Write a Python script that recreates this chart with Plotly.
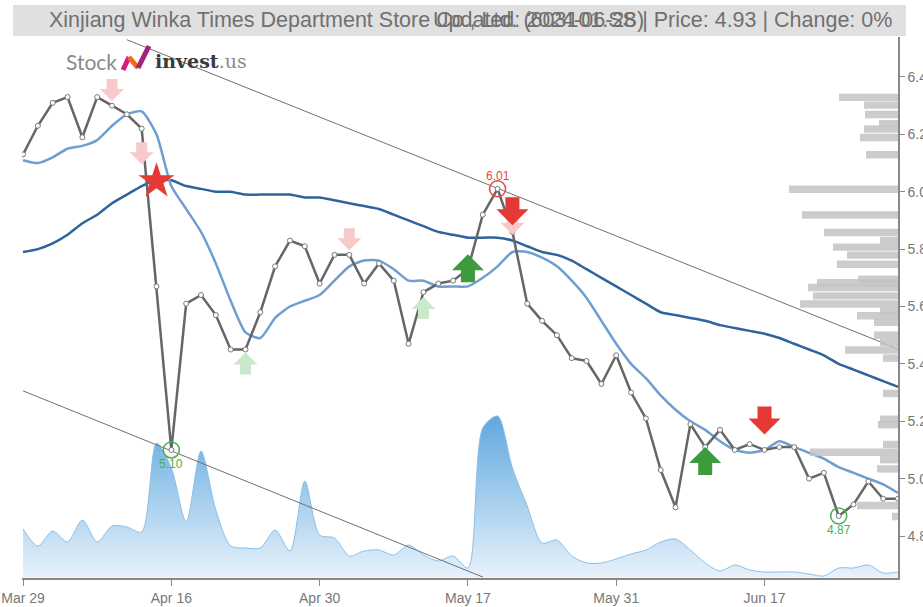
import plotly.graph_objects as go

# ---------------- data ----------------
dates = ["2024-03-29", "2024-04-01", "2024-04-02", "2024-04-03", "2024-04-08", "2024-04-09", "2024-04-10",
         "2024-04-11", "2024-04-12", "2024-04-15", "2024-04-16",
         "2024-04-17", "2024-04-18", "2024-04-19", "2024-04-22", "2024-04-23", "2024-04-24", "2024-04-25",
         "2024-04-26", "2024-04-29", "2024-04-30",
         "2024-05-06", "2024-05-07", "2024-05-08", "2024-05-09", "2024-05-10", "2024-05-13", "2024-05-14",
         "2024-05-15", "2024-05-16", "2024-05-17",
         "2024-05-20", "2024-05-21", "2024-05-22", "2024-05-23", "2024-05-24", "2024-05-27", "2024-05-28",
         "2024-05-29", "2024-05-30", "2024-05-31",
         "2024-06-03", "2024-06-04", "2024-06-05", "2024-06-06", "2024-06-07", "2024-06-11", "2024-06-12",
         "2024-06-13", "2024-06-14", "2024-06-17",
         "2024-06-18", "2024-06-19", "2024-06-20", "2024-06-21", "2024-06-24", "2024-06-25", "2024-06-26",
         "2024-06-27", "2024-06-28"]

close = [6.13, 6.23, 6.31, 6.33, 6.19, 6.33, 6.30, 6.27, 6.22, 5.67, 5.10,
         5.61, 5.64, 5.57, 5.45, 5.45, 5.58, 5.74, 5.83, 5.81, 5.68,
         5.78, 5.78, 5.68, 5.75, 5.69, 5.47, 5.65, 5.68, 5.69, 5.73,
         5.92, 6.01, 5.86, 5.61, 5.55, 5.50, 5.42, 5.41, 5.33, 5.43,
         5.30, 5.21, 5.03, 4.90, 5.19, 5.11, 5.17, 5.10, 5.12, 5.10,
         5.11, 5.11, 5.00, 5.02, 4.87, 4.91, 4.99, 4.93, 4.93]

ma_short = [6.11, 6.10, 6.12, 6.15, 6.16, 6.18, 6.23, 6.27, 6.28, 6.20, 6.02,
            5.94, 5.86, 5.75, 5.62, 5.51, 5.49, 5.56, 5.60, 5.62, 5.64,
            5.69, 5.74, 5.76, 5.76, 5.73, 5.69, 5.69, 5.67, 5.67, 5.67,
            5.70, 5.74, 5.79, 5.79, 5.77, 5.74, 5.69, 5.63, 5.55, 5.47,
            5.40, 5.35, 5.29, 5.24, 5.20, 5.17, 5.13, 5.10, 5.09, 5.10,
            5.13, 5.11, 5.09, 5.07, 5.04, 5.02, 5.00, 4.98, 4.95]

ma_long = [5.79, 5.80, 5.82, 5.85, 5.89, 5.92, 5.96, 5.99, 6.02, 6.04, 6.04,
           6.02, 6.01, 6.00, 6.00, 5.99, 5.99, 5.99, 5.99, 5.98, 5.98,
           5.97, 5.96, 5.95, 5.94, 5.92, 5.90, 5.88, 5.86, 5.85, 5.84,
           5.84, 5.84, 5.83, 5.81, 5.79, 5.78, 5.76, 5.73, 5.70, 5.67,
           5.64, 5.61, 5.58, 5.57, 5.56, 5.55, 5.535, 5.525, 5.515, 5.505,
           5.49, 5.47, 5.45, 5.43, 5.40, 5.38, 5.36, 5.34, 5.32]

volume = [49, 32, 47, 36, 58, 36, 52, 51, 46, 135, 110,
          56, 127, 68, 32, 30, 30, 48, 27, 97, 43,
          40, 22, 27, 28, 23, 33, 23, 17, 22, 10,
          150, 162, 110, 72, 35, 38, 22, 15, 15, 19,
          24, 28, 36, 39, 28, 15, 7, 13, 8, 6,
          6, 6, 4, 2, 10, 10, 13, 5, 6]

profile_price = [6.329, 6.302, 6.269, 6.237, 6.219, 6.189, 6.129, 6.009, 5.919, 5.858, 5.83, 5.807,
                 5.779, 5.747, 5.695, 5.683, 5.666, 5.637, 5.609, 5.585, 5.568, 5.545, 5.50, 5.475,
                 5.448, 5.42, 5.297, 5.207, 5.188, 5.119, 5.092, 5.066, 5.034, 4.906, 4.868]
profile_volume = [59, 34, 33, 19, 34, 38, 32, 109, 96, 74, 18, 65,
                  51, 61, 40, 81, 90, 85, 98, 18, 41, 24, 24, 18,
                  53, 15, 15, 18, 20, 15, 88, 18, 21, 41, 6]

trend_upper_dates = ["2024-04-11", "2024-06-28"]
trend_upper_val = [6.53, 5.452]
trend_lower_dates = ["2024-03-29", "2024-05-20"]
trend_lower_val = [5.306, 4.657]

sell_weak = [(6, 6.316), (8, 6.096), (22, 5.796), (33, 5.85)]
buy_weak = [(15, 5.44), (27, 5.633)]
buy_strong = [(30, 5.782), (46, 5.11)]
sell_strong = [(33, 5.883), (50, 5.154)]
star_point = (9, 6.037)
top_points = [32]
bottom_points = [10, 55]

tick_idx = [0, 10, 20, 30, 40, 50]
tick_text = ["Mar 29", "Apr 16", "Apr 30", "May 17", "May 31", "Jun 17"]

title_left = "Xinjiang Winka Times Department Store Co., Ltd. (603101.SS)"
title_right = "Updated: 2024-06-28 | Price: 4.93 | Change: 0%"

# ---------------- geometry helpers ----------------
W, H = 923, 607
ML, MR, MT, MB = 22, 25, 37, 29
PW, PH = W - ML - MR, H - MT - MB


def px(X):
    return (X - ML) / PW


def py(Y):
    return (H - MB - Y) / PH


fig = go.Figure()

# volume area (main subplot, hidden axis)
fig.add_trace(go.Scatter(
    x=dates, y=volume, xaxis="x", yaxis="y", mode="lines",
    line=dict(color="#8cc0e8", width=1, shape="spline", smoothing=0.8),
    fill="tozeroy",
    fillgradient=dict(type="vertical",
                      colorscale=[[0, "rgba(232,242,251,1)"], [1, "rgba(95,168,222,1)"]]),
    hoverinfo="skip"))

# volume profile bars
fig.add_trace(go.Bar(
    x=profile_volume, y=profile_price, orientation="h", xaxis="x2", yaxis="y2",
    width=0.026, marker=dict(color="rgba(195,195,195,0.85)", line=dict(width=0)),
    hoverinfo="skip"))

# trend lines
fig.add_trace(go.Scatter(x=trend_upper_dates, y=trend_upper_val, xaxis="x", yaxis="y2", mode="lines",
                         line=dict(color="#707070", width=1), hoverinfo="skip"))
fig.add_trace(go.Scatter(x=trend_lower_dates, y=trend_lower_val, xaxis="x", yaxis="y2", mode="lines",
                         line=dict(color="#707070", width=1), hoverinfo="skip"))

# moving averages
fig.add_trace(go.Scatter(x=dates, y=ma_long, xaxis="x", yaxis="y2", mode="lines",
                         line=dict(color="#2f639c", width=2.5, shape="spline", smoothing=0.6)))
fig.add_trace(go.Scatter(x=dates, y=ma_short, xaxis="x", yaxis="y2", mode="lines",
                         line=dict(color="#6f9fd0", width=2.5, shape="spline", smoothing=0.6)))

# price
fig.add_trace(go.Scatter(x=dates, y=close, xaxis="x", yaxis="y2", mode="lines+markers",
                         line=dict(color="#666666", width=2.5),
                         marker=dict(symbol="circle", size=5, color="white",
                                     line=dict(color="#777777", width=1))))

# star
fig.add_trace(go.Scatter(x=[dates[star_point[0]]], y=[star_point[1]], xaxis="x", yaxis="y2",
                         mode="markers", marker=dict(symbol="star", size=27, color="#e53935",
                                                     line=dict(width=0))))

# top / bottom circles
fig.add_trace(go.Scatter(x=[dates[i] for i in top_points], y=[close[i] for i in top_points],
                         xaxis="x", yaxis="y2", mode="markers",
                         marker=dict(symbol="circle-open", size=16, color="#e8474a", line=dict(width=1.5))))
fig.add_trace(go.Scatter(x=[dates[i] for i in bottom_points], y=[close[i] for i in bottom_points],
                         xaxis="x", yaxis="y2", mode="markers",
                         marker=dict(symbol="circle-open", size=16, color="#4caf50", line=dict(width=1.5))))

annotations = []
for i in top_points:
    annotations.append(dict(x=dates[i], y=close[i], xref="x", yref="y2", text=f"{close[i]:.2f}",
                            showarrow=False, yshift=13, font=dict(color="#e8474a", size=12,
                                                                    family="Liberation Sans, Arial")))
for i in bottom_points:
    annotations.append(dict(x=dates[i], y=close[i], xref="x", yref="y2", text=f"{close[i]:.2f}",
                            showarrow=False, yshift=-14, font=dict(color="#4caf50", size=12,
                                                                     family="Liberation Sans, Arial")))


# arrows
def arrow_path(w, h, hh, s, down=True):
    sg = 1 if down else -1
    pts = [(-s / 2, h), (-s / 2, hh), (-w / 2, hh), (0, 0), (w / 2, hh), (s / 2, hh), (s / 2, h)]
    return "M " + " L ".join(f"{x:.1f},{sg * y:.1f}" for x, y in pts) + " Z"


shapes = []


def add_arrows(points, color, big, down):
    for i, p in points:
        if big:
            path = arrow_path(32, 28, 16, 14, down)
        else:
            path = arrow_path(24, 22, 12, 11, down)
        shapes.append(dict(type="path", xref="x", yref="y2", xsizemode="pixel", ysizemode="pixel",
                           xanchor=dates[i], yanchor=p, path=path, fillcolor=color,
                           line=dict(width=0), layer="above"))


add_arrows(sell_weak, "#f7c9c9", False, True)
add_arrows(buy_weak, "#cbe8cc", False, False)
add_arrows(buy_strong, "#3d9a3d", True, False)
add_arrows(sell_strong, "#e53935", True, True)

# title bar
shapes.append(dict(type="rect", xref="paper", yref="paper", x0=px(13), x1=px(906), y0=py(36), y1=py(5),
                   fillcolor="#e0e0e0", line=dict(width=0), layer="below"))
annotations.append(dict(xref="paper", yref="paper", x=px(47), y=py(20), xanchor="left", yanchor="middle",
                        text=title_left, showarrow=False,
                        font=dict(family="Liberation Sans, Arial", size=21.5, color="#707070")))
annotations.append(dict(xref="paper", yref="paper", x=px(894), y=py(20), xanchor="right", yanchor="middle",
                        text=title_right, showarrow=False,
                        font=dict(family="Liberation Sans, Arial", size=21.5, color="#707070")))

# logo
annotations.append(dict(xref="paper", yref="paper", x=px(119), y=py(61), xanchor="right", yanchor="middle",
                        text="Stock", showarrow=False,
                        font=dict(family="Lato, Open Sans", size=21, color="#8a8a8a")))
annotations.append(dict(xref="paper", yref="paper", x=px(153), y=py(61), xanchor="left", yanchor="middle",
                        text="<b>invest</b><span style='color:#8a8a8a'>.us</span>", showarrow=False,
                        font=dict(family="DejaVu Serif, Liberation Serif", size=19, color="#3a3a3a")))
logo_segments = [((123, 70), (129, 57), "#d81b7a"), ((129, 57), (138, 68), "#f06a1f"),
                 ((138, 68), (149, 46), "#a0247c")]
for (x0, y0), (x1, y1), c in logo_segments:
    shapes.append(dict(type="line", xref="paper", yref="paper", x0=px(x0), y0=py(y0), x1=px(x1), y1=py(y1),
                       line=dict(color=c, width=5), layer="above"))

fig.update_layout(
    width=W, height=H, margin=dict(l=ML, r=MR, t=MT, b=MB, autoexpand=False),
    paper_bgcolor="white", plot_bgcolor="white", showlegend=False,
    font=dict(family="Liberation Sans, Arial", color="#777777", size=14),
    xaxis=dict(type="category", categoryorder="array", categoryarray=dates, automargin=False,
               range=[-0.07, 59.0], tickvals=[dates[i] for i in tick_idx], ticktext=tick_text,
               showgrid=False, zeroline=False, showline=True, linecolor="#888888", linewidth=1.5,
               ticks="outside", ticklen=6, tickcolor="#888888", tickfont=dict(size=14, color="#777777")),
    yaxis=dict(range=[0, PH], visible=False, fixedrange=True, automargin=False),
    xaxis2=dict(overlaying="x", range=[PW, 0], visible=False, anchor="y2", automargin=False),
    yaxis2=dict(overlaying="y", side="right", range=[4.6536, 6.5394], anchor="x", automargin=False,
                tickvals=[4.8, 5.0, 5.2, 5.4, 5.6, 5.8, 6.0, 6.2, 6.4], ticktext=["4.8", "5.0", "5.2", "5.4",
                                                                                "5.6", "5.8", "6.0", "6.2", "6.4"],
                showgrid=False, zeroline=False, showline=True, linecolor="#888888", linewidth=1.5,
                ticks="outside", ticklen=5, tickcolor="#888888", tickfont=dict(size=14, color="#777777")),
    shapes=shapes, annotations=annotations,
)

fig.write_html("out.html", config={"displayModeBar": False},
               post_script="document.body.style.margin='0';document.body.style.overflow='hidden';")
